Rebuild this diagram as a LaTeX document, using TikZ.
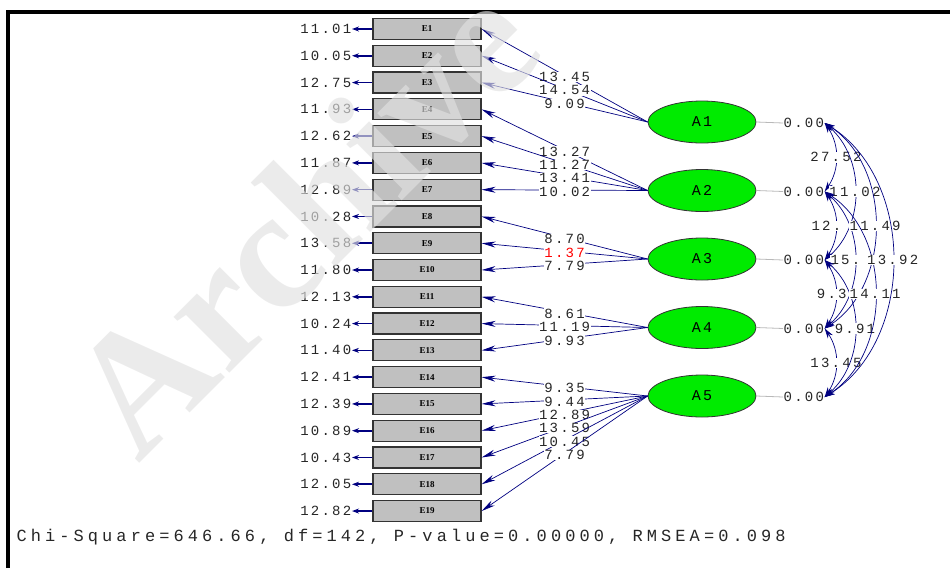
\documentclass[tikz,border=0pt]{standalone}
\usepackage{fontspec}
\usepackage{tikz}
\usetikzlibrary{arrows.meta, positioning, shapes.geometric}
\newfontfamily\lisfont[LetterSpace=16]{Liberation Mono}
\newfontfamily\fitfont[LetterSpace=24]{Liberation Mono}
\newfontfamily\boxfont{Liberation Serif}
\definecolor{pathnavy}{RGB}{0,0,128}
\definecolor{boxgray}{RGB}{192,192,192}
\definecolor{factgreen}{RGB}{0,235,0}
\definecolor{wmgray}{RGB}{225,225,225}

\begin{document}
\begin{tikzpicture}[x=1pt, y=-1pt,
  ebox/.style={draw=black!80, line width=1.2pt, fill=boxgray, minimum width=108pt, minimum height=21pt, inner sep=0pt, font=\boxfont\bfseries\fontsize{9}{9}\selectfont},
  fact/.style={ellipse, draw=black!80, line width=0.8pt, fill=factgreen, minimum width=108pt, minimum height=42pt, inner sep=0pt, font=\lisfont\fontsize{15}{15}\selectfont},
  num/.style={font=\lisfont\fontsize{14}{14}\selectfont, text=black!85, inner sep=0.5pt},
  lbl/.style={num, fill=white},
  load/.style={draw=pathnavy, line width=0.7pt, -{Stealth[length=14pt,width=6pt]}},
  err/.style={draw=pathnavy, line width=1.6pt, -{Stealth[length=7pt,width=5pt]}},
  cov/.style={draw=pathnavy, line width=0.7pt, {Stealth[length=10pt,width=6pt]}-{Stealth[length=10pt,width=6pt]}},
]
  \useasboundingbox (0,0) rectangle (950,568);
  \draw[line width=4pt] (8,568) -- (8,12) -- (950,12);

  \foreach \i/\ev in {1/11.01, 2/10.05, 3/12.75, 4/11.93, 5/12.62, 6/11.87, 7/12.89, 8/10.28, 9/13.58, 10/11.80,
                      11/12.13, 12/10.24, 13/11.40, 14/12.41, 15/12.39, 16/10.89, 17/10.43, 18/12.05, 19/12.82} {
    \node[ebox] (e\i) at (427, {29+(\i-1)*26.78}) {E\i};
    \node[num, anchor=east] (v\i) at (352, {29+(\i-1)*26.78}) {\ev};
    \draw[err] (e\i.west) -- (v\i.east);
  }

  \foreach \j/\yy in {1/122, 2/190.5, 3/259, 4/327.5, 5/396} {
    \node[fact] (a\j) at (702,\yy) {A\j};
    \node[num, anchor=west] (z\j) at (783,\yy+1) {0.00};
    \draw[gray!55, line width=0.8pt] (a\j.east) -- (z\j.west);
  }

  \foreach \j/\i/\ld in {1/1/13.45, 1/2/14.54, 1/3/9.09, 2/4/13.27, 2/5/11.27, 2/6/13.41, 2/7/10.02,
                         3/8/8.70, 3/9/{\textcolor{red}{1.37}}, 3/10/7.79, 4/11/8.61, 4/12/11.19, 4/13/9.93,
                         5/14/9.35, 5/15/9.44, 5/16/12.89, 5/17/13.59, 5/18/10.45, 5/19/7.79}
    \draw[load] (a\j.west) -- node[lbl, pos=0.5, yshift=-1.5pt] (ld\i) {\ld} (e\i.east);

  \foreach \p/\q/\bnd/\cv in {1/2/34/27.52, 2/3/34/{12.\phantom{00}}, 3/4/34/{9.3\phantom{0}}, 4/5/34/13.45,
                              1/3/49/11.02, 2/4/49/{15.\phantom{00}}, 3/5/49/9.91,
                              1/4/57/11.49, 2/5/57/14.11, 1/5/58/13.92}
    \draw[cov] (z\p.east) to[bend left=\bnd] node[lbl] (c\p\q) {\cv} (z\q.east);

  \node[font=\fitfont\fontsize{17}{17}\selectfont, text=black!85, anchor=west] (fit) at (13,537)
    {Chi-Square=646.66, df=142, P-value=0.00000, RMSEA=0.098};

  \node[font=\boxfont\bfseries\fontsize{172}{172}\selectfont, text=wmgray, text opacity=0.65, rotate=45] (wmark) at (302,218) {Archive};
\end{tikzpicture}
\end{document}
